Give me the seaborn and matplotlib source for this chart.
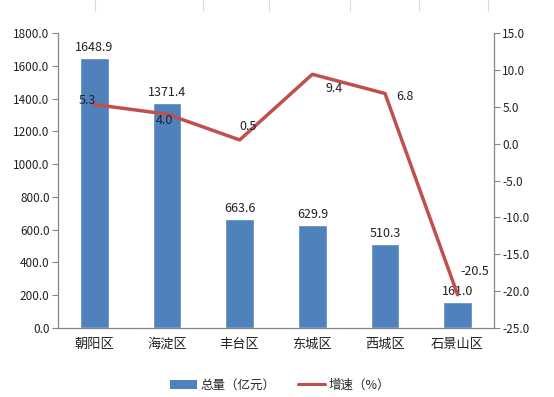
import matplotlib
matplotlib.use("Agg")
import matplotlib.pyplot as plt
import seaborn as sns
import pandas as pd
import numpy as np
from matplotlib.lines import Line2D
from matplotlib.patches import Patch

categories = ["朝阳区", "海淀区", "丰台区", "东城区", "西城区", "石景山区"]
totals = [1648.9, 1371.4, 663.6, 629.9, 510.3, 161.0]
growth = [5.3, 4.0, 0.5, 9.4, 6.8, -20.5]
left_ticks = [0, 200, 400, 600, 800, 1000, 1200, 1400, 1600, 1800]
right_ticks = [-25, -20, -15, -10, -5, 0, 5, 10, 15]

sns.set_style("white")
plt.rcParams["font.family"] = ["Noto Sans CJK SC", "DejaVu Sans"]

bar_color = "#4F81BD"
line_color = "#C0504D"
spine_color = "#868686"
text_color = "#222222"

df = pd.DataFrame({"district": categories, "total": totals, "growth": growth})

fig = plt.figure(figsize=(5.54, 3.97), dpi=100)
ax = fig.add_axes([58/554, 1-328/397, (494-58)/554, (328-33)/397])

sns.barplot(data=df, x="district", y="total", color=bar_color, width=0.39,
            saturation=1, ax=ax)
ax.set_xlim(-0.5, len(categories) - 0.5)
ax.set_ylim(0, 1800)
ax.set_yticks(left_ticks)
ax.set_yticklabels([f"{v:.1f}" for v in left_ticks], fontsize=8.5, color=text_color)
ax.set_xlabel("")
ax.set_ylabel("")
ax.set_xticks(range(len(categories)))
ax.set_xticklabels(categories, fontsize=9.5, color=text_color)
ax.tick_params(axis="x", length=0, pad=7)
ax.set_xticks(np.arange(-0.5, len(categories), 1.0), minor=True)
ax.tick_params(axis="x", which="minor", length=4, color=spine_color, direction="out")
ax.tick_params(axis="y", length=4, color=spine_color, direction="out", pad=2)

for sp in ["top", "right"]:
    ax.spines[sp].set_visible(False)
for sp in ["left", "bottom"]:
    ax.spines[sp].set_color(spine_color)
    ax.spines[sp].set_linewidth(0.9)

for i, v in enumerate(totals):
    ax.text(i, v + 25, f"{v:.1f}", ha="center", va="bottom", fontsize=9, color=text_color)

ax2 = ax.twinx()
sns.lineplot(data=df, x="district", y="growth", color=line_color, linewidth=2.5,
             ax=ax2, sort=False)
ax2.set_ylim(-25, 15)
ax2.set_yticks(right_ticks)
ax2.set_yticklabels([f"{v:.1f}" for v in right_ticks], fontsize=8.5, color=text_color)
ax2.set_ylabel("")
ax2.set_xlabel("")
ax2.tick_params(axis="y", length=4, color=spine_color, direction="out", pad=2)
for sp in ["top", "left", "bottom"]:
    ax2.spines[sp].set_visible(False)
ax2.spines["right"].set_color(spine_color)
ax2.spines["right"].set_linewidth(0.9)
ax2.set_xlim(-0.5, len(categories) - 0.5)

# growth label offsets (points)
offsets = [(-5, 3), (-2, -4.5), (6, 10), (16, -10), (14, -2), (12, 17)]
for i, (v, off) in enumerate(zip(growth, offsets)):
    ax2.annotate(f"{v:.1f}", (i, v), xytext=off, textcoords="offset points",
                 ha="center", va="center", fontsize=9, color=text_color)

# faint vertical lines at top of image
for xp in [95, 203, 269, 350, 419, 488]:
    fig.add_artist(Line2D([xp/554, xp/554], [1, 1-11/397], color="#dcdcdc",
                          linewidth=0.8, transform=fig.transFigure))

handles = [Patch(facecolor=bar_color, edgecolor="none"),
           Line2D([0], [0], color=line_color, linewidth=2.2)]
fig.legend(handles, ["总量（亿元）", "增速（%）"], loc="center",
           bbox_to_anchor=(280/554, 1-385/397), ncol=2, frameon=False,
           fontsize=9, handlelength=2.15, handleheight=0.7, columnspacing=1.75,
           handletextpad=0.3)

fig.savefig("out.png", dpi=100)
